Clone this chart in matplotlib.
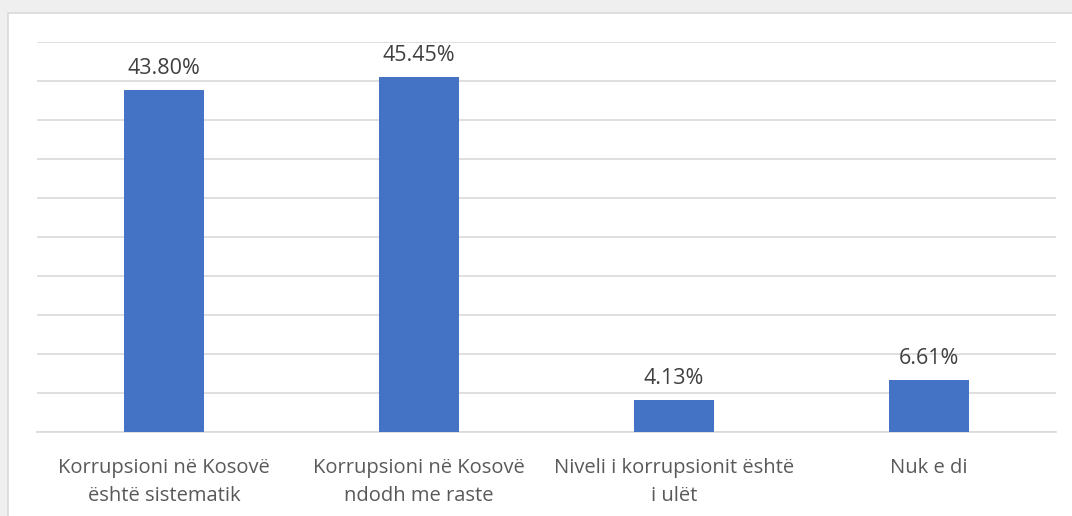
import matplotlib.pyplot as plt
from matplotlib.patches import Rectangle

kategorite = ['Korrupsioni në Kosovë\nështë sistematik',
              'Korrupsioni në Kosovë\nndodh me raste',
              'Niveli i korrupsionit është\ni ulët',
              'Nuk e di']
perqindjet = [43.80, 45.45, 4.13, 6.61]

plt.rcParams['font.family'] = ['Open Sans', 'DejaVu Sans']

fig = plt.figure(figsize=(10.72, 5.16), dpi=100)
fig.patch.set_facecolor('#efefef')
# paneli i bardhe me kornize
fig.patches.append(Rectangle((8 / 1072, -0.05), 1.1, (516 - 13) / 516 + 0.05,
                             transform=fig.transFigure, facecolor='white',
                             edgecolor='#d9d9d9', linewidth=1.2, zorder=-10))

ax = fig.add_axes([37 / 1072, 84 / 516, (1056 - 37) / 1072, 390 / 516])
ax.set_facecolor('none')
x = range(len(kategorite))
bars = ax.bar(x, perqindjet, width=0.314, color='#4472c4', zorder=3)
for b, v in zip(bars, perqindjet):
    ax.annotate(f'{v:.2f}%', (b.get_x() + b.get_width() / 2, v),
                xytext=(0, 8), textcoords='offset points',
                ha='center', va='bottom', fontsize=15.5, color='#404040')

ax.set_xlim(-0.5, len(kategorite) - 0.5)
ax.set_ylim(0, 50)
ax.set_yticks(range(0, 51, 5))
ax.yaxis.grid(True, color='#d9d9d9', linewidth=1.2)
ax.set_yticklabels([])
ax.tick_params(axis='both', length=0)
ax.set_xticks(list(x))
ax.set_xticklabels(kategorite, fontsize=14.5, color='#595959', linespacing=1.5)
ax.tick_params(axis='x', pad=19)
for s in ['top', 'right', 'left']:
    ax.spines[s].set_visible(False)
ax.spines['bottom'].set_color('#d9d9d9')
ax.spines['bottom'].set_linewidth(1.2)

fig.savefig('out.png', dpi=100, facecolor=fig.get_facecolor())
